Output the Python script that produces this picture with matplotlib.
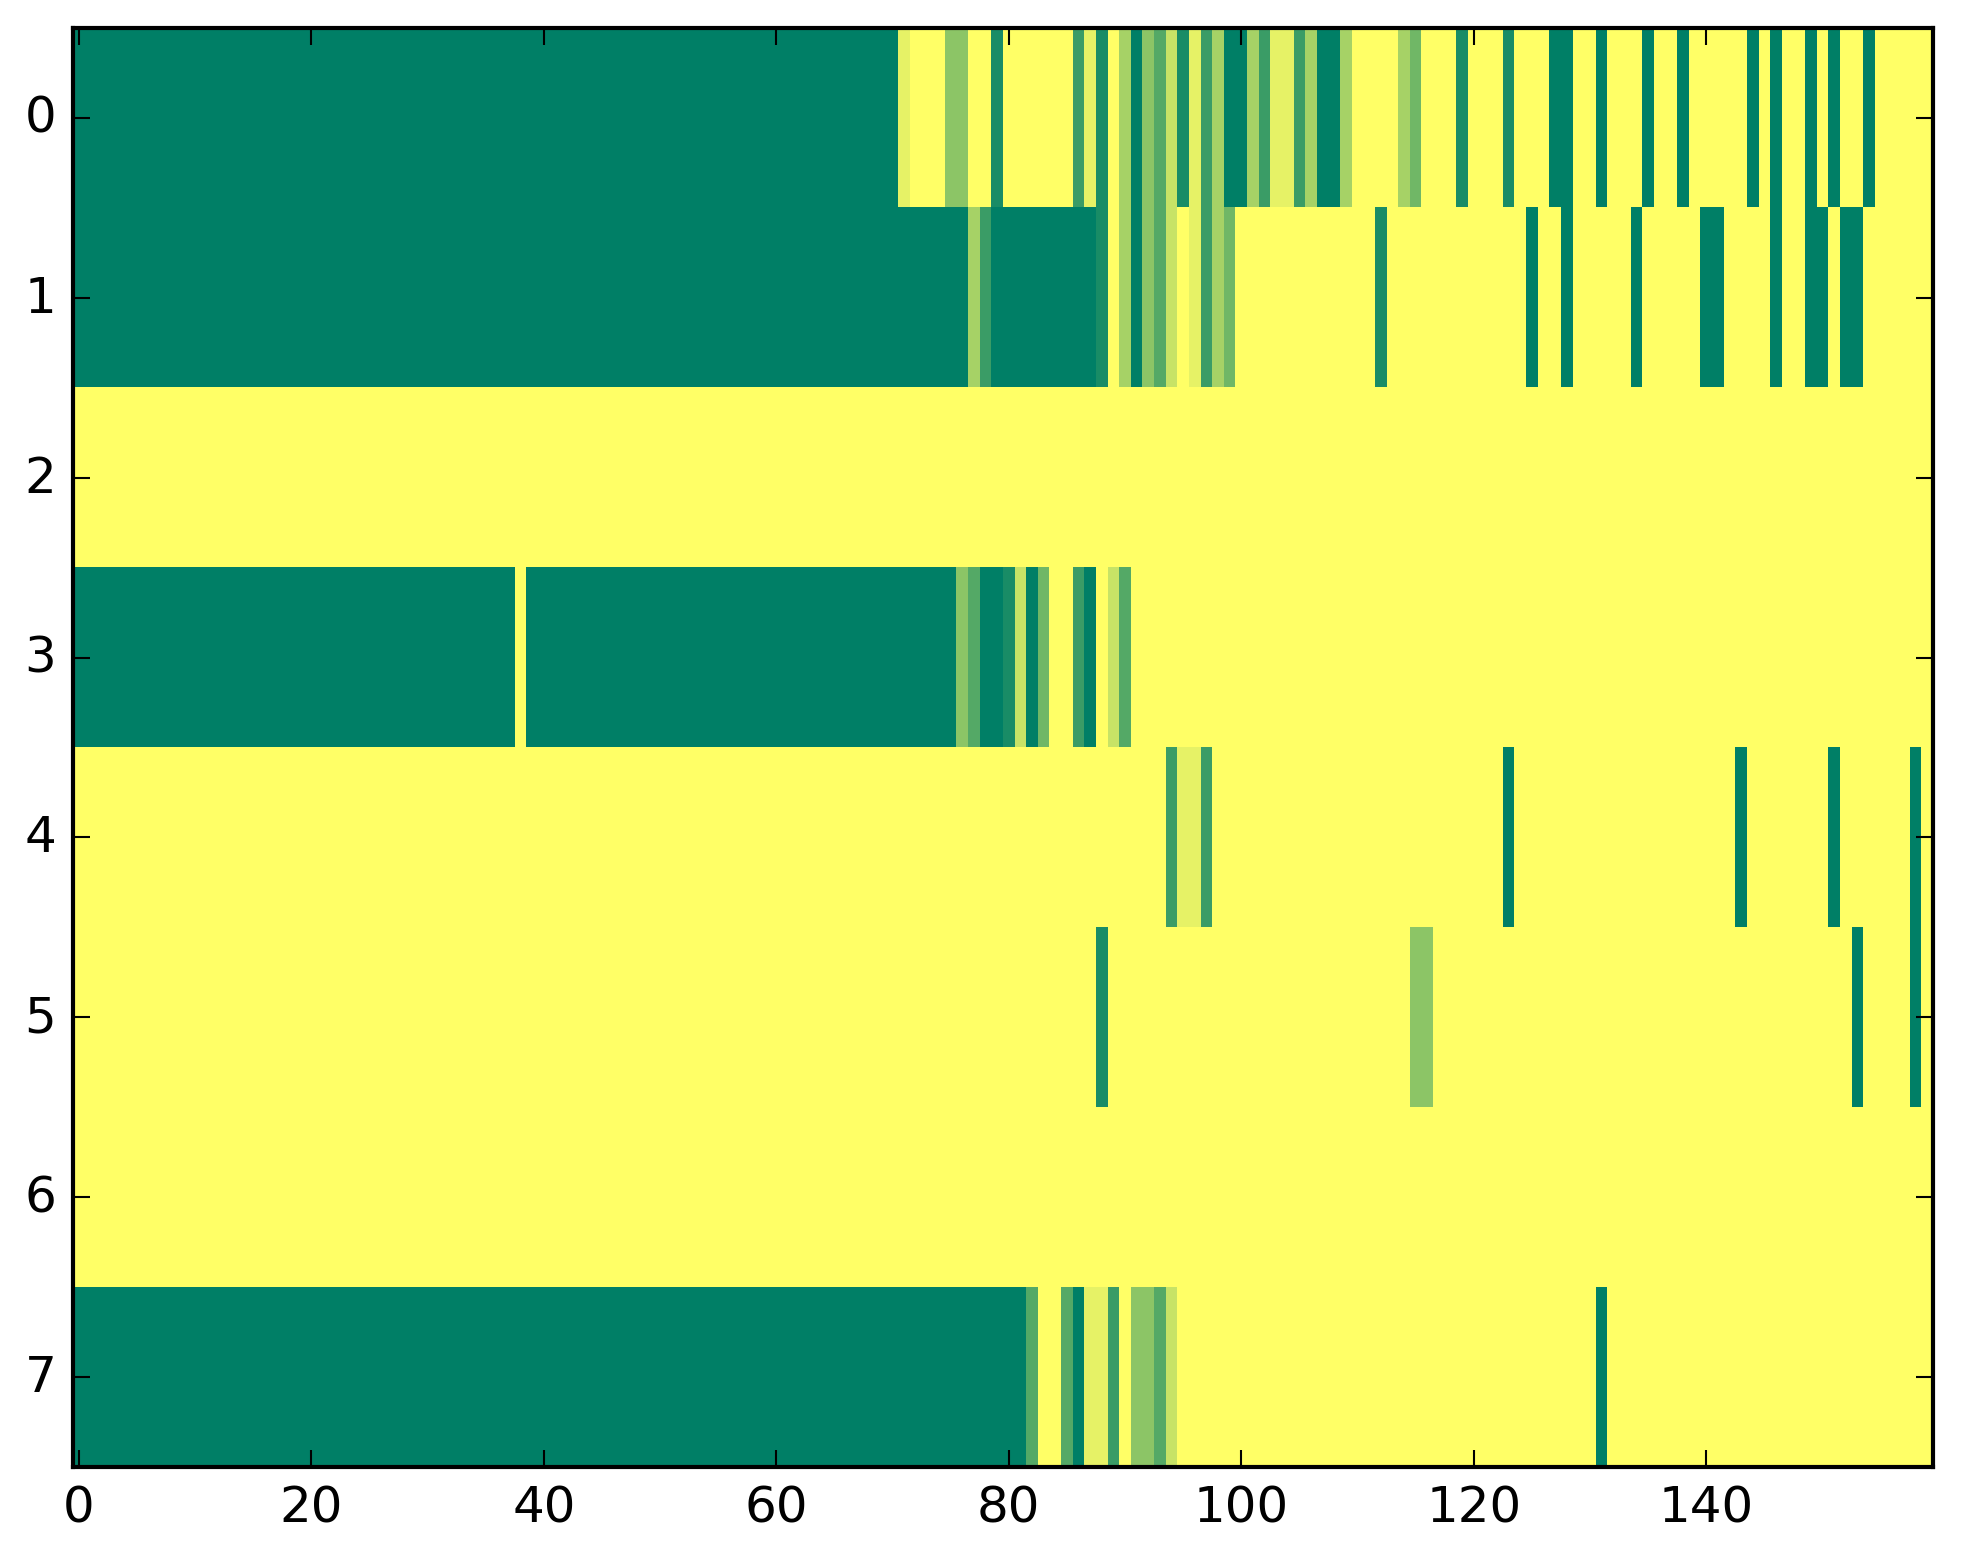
import numpy as np
import matplotlib
matplotlib.use("Agg")
import matplotlib.pyplot as plt

# one list per row, 160 cells each (20 per line), values in [0, 1]
row0 = [
    0, 0, 0, 0, 0, 0, 0, 0, 0, 0, 0, 0, 0, 0, 0, 0, 0, 0, 0, 0,
    0, 0, 0, 0, 0, 0, 0, 0, 0, 0, 0, 0, 0, 0, 0, 0, 0, 0, 0, 0,
    0, 0, 0, 0, 0, 0, 0, 0, 0, 0, 0, 0, 0, 0, 0, 0, 0, 0, 0, 0,
    0, 0, 0, 0, 0, 0, 0, 0, 0, 0, 0, .9, 1, 1, 1, .55, .55, 1, 1, .1,
    1, 1, 1, 1, 1, 1, .23, .9, .1, 1, .65, 0, .55, .33, .78, .1, .9, .23, .65, 0,
    0, .65, .23, .9, .9, .23, .65, 0, 0, .65, 1, 1, 1, 1, .65, .44, 1, 1, 1, .1,
    1, 1, 1, .1, 1, 1, 1, 0, 0, 1, 1, 0, 1, 1, 1, 0, 1, 1, 0, 1,
    1, 1, 1, 1, 0, 1, 0, 1, 1, 0, 1, 0, 1, 1, 0, 1, 1, 1, 1, 1,
]
row1 = [
    0, 0, 0, 0, 0, 0, 0, 0, 0, 0, 0, 0, 0, 0, 0, 0, 0, 0, 0, 0,
    0, 0, 0, 0, 0, 0, 0, 0, 0, 0, 0, 0, 0, 0, 0, 0, 0, 0, 0, 0,
    0, 0, 0, 0, 0, 0, 0, 0, 0, 0, 0, 0, 0, 0, 0, 0, 0, 0, 0, 0,
    0, 0, 0, 0, 0, 0, 0, 0, 0, 0, 0, 0, 0, 0, 0, 0, 0, .65, .23, 0,
    0, 0, 0, 0, 0, 0, 0, 0, .1, 1, .65, 0, .55, .33, .78, 1, .9, .23, .65, .44,
    1, 1, 1, 1, 1, 1, 1, 1, 1, 1, 1, 1, .1, 1, 1, 1, 1, 1, 1, 1,
    1, 1, 1, 1, 1, 0, 1, 1, 0, 1, 1, 1, 1, 1, 0, 1, 1, 1, 1, 1,
    0, 0, 1, 1, 1, 1, 0, 1, 1, 0, 0, 1, 0, 0, 1, 1, 1, 1, 1, 1,
]
row2 = [
    1, 1, 1, 1, 1, 1, 1, 1, 1, 1, 1, 1, 1, 1, 1, 1, 1, 1, 1, 1,
    1, 1, 1, 1, 1, 1, 1, 1, 1, 1, 1, 1, 1, 1, 1, 1, 1, 1, 1, 1,
    1, 1, 1, 1, 1, 1, 1, 1, 1, 1, 1, 1, 1, 1, 1, 1, 1, 1, 1, 1,
    1, 1, 1, 1, 1, 1, 1, 1, 1, 1, 1, 1, 1, 1, 1, 1, 1, 1, 1, 1,
    1, 1, 1, 1, 1, 1, 1, 1, 1, 1, 1, 1, 1, 1, 1, 1, 1, 1, 1, 1,
    1, 1, 1, 1, 1, 1, 1, 1, 1, 1, 1, 1, 1, 1, 1, 1, 1, 1, 1, 1,
    1, 1, 1, 1, 1, 1, 1, 1, 1, 1, 1, 1, 1, 1, 1, 1, 1, 1, 1, 1,
    1, 1, 1, 1, 1, 1, 1, 1, 1, 1, 1, 1, 1, 1, 1, 1, 1, 1, 1, 1,
]
row3 = [
    0, 0, 0, 0, 0, 0, 0, 0, 0, 0, 0, 0, 0, 0, 0, 0, 0, 0, 0, 0,
    0, 0, 0, 0, 0, 0, 0, 0, 0, 0, 0, 0, 0, 0, 0, 0, 0, 0, 1, 0,
    0, 0, 0, 0, 0, 0, 0, 0, 0, 0, 0, 0, 0, 0, 0, 0, 0, 0, 0, 0,
    0, 0, 0, 0, 0, 0, 0, 0, 0, 0, 0, 0, 0, 0, 0, 0, .55, .33, 0, 0,
    .1, .78, 0, .44, 1, 1, .23, 0, 1, .78, .33, 1, 1, 1, 1, 1, 1, 1, 1, 1,
    1, 1, 1, 1, 1, 1, 1, 1, 1, 1, 1, 1, 1, 1, 1, 1, 1, 1, 1, 1,
    1, 1, 1, 1, 1, 1, 1, 1, 1, 1, 1, 1, 1, 1, 1, 1, 1, 1, 1, 1,
    1, 1, 1, 1, 1, 1, 1, 1, 1, 1, 1, 1, 1, 1, 1, 1, 1, 1, 1, 1,
]
row4 = [
    1, 1, 1, 1, 1, 1, 1, 1, 1, 1, 1, 1, 1, 1, 1, 1, 1, 1, 1, 1,
    1, 1, 1, 1, 1, 1, 1, 1, 1, 1, 1, 1, 1, 1, 1, 1, 1, 1, 1, 1,
    1, 1, 1, 1, 1, 1, 1, 1, 1, 1, 1, 1, 1, 1, 1, 1, 1, 1, 1, 1,
    1, 1, 1, 1, 1, 1, 1, 1, 1, 1, 1, 1, 1, 1, 1, 1, 1, 1, 1, 1,
    1, 1, 1, 1, 1, 1, 1, 1, 1, 1, 1, 1, 1, 1, .23, .9, .9, .23, 1, 1,
    1, 1, 1, 1, 1, 1, 1, 1, 1, 1, 1, 1, 1, 1, 1, 1, 1, 1, 1, 1,
    1, 1, 1, 0, 1, 1, 1, 1, 1, 1, 1, 1, 1, 1, 1, 1, 1, 1, 1, 1,
    1, 1, 1, 0, 1, 1, 1, 1, 1, 1, 1, 0, 1, 1, 1, 1, 1, 1, 0, 1,
]
row5 = [
    1, 1, 1, 1, 1, 1, 1, 1, 1, 1, 1, 1, 1, 1, 1, 1, 1, 1, 1, 1,
    1, 1, 1, 1, 1, 1, 1, 1, 1, 1, 1, 1, 1, 1, 1, 1, 1, 1, 1, 1,
    1, 1, 1, 1, 1, 1, 1, 1, 1, 1, 1, 1, 1, 1, 1, 1, 1, 1, 1, 1,
    1, 1, 1, 1, 1, 1, 1, 1, 1, 1, 1, 1, 1, 1, 1, 1, 1, 1, 1, 1,
    1, 1, 1, 1, 1, 1, 1, 1, .1, 1, 1, 1, 1, 1, 1, 1, 1, 1, 1, 1,
    1, 1, 1, 1, 1, 1, 1, 1, 1, 1, 1, 1, 1, 1, 1, .55, .55, 1, 1, 1,
    1, 1, 1, 1, 1, 1, 1, 1, 1, 1, 1, 1, 1, 1, 1, 1, 1, 1, 1, 1,
    1, 1, 1, 1, 1, 1, 1, 1, 1, 1, 1, 1, 1, 0, 1, 1, 1, 1, 0, 1,
]
row6 = [
    1, 1, 1, 1, 1, 1, 1, 1, 1, 1, 1, 1, 1, 1, 1, 1, 1, 1, 1, 1,
    1, 1, 1, 1, 1, 1, 1, 1, 1, 1, 1, 1, 1, 1, 1, 1, 1, 1, 1, 1,
    1, 1, 1, 1, 1, 1, 1, 1, 1, 1, 1, 1, 1, 1, 1, 1, 1, 1, 1, 1,
    1, 1, 1, 1, 1, 1, 1, 1, 1, 1, 1, 1, 1, 1, 1, 1, 1, 1, 1, 1,
    1, 1, 1, 1, 1, 1, 1, 1, 1, 1, 1, 1, 1, 1, 1, 1, 1, 1, 1, 1,
    1, 1, 1, 1, 1, 1, 1, 1, 1, 1, 1, 1, 1, 1, 1, 1, 1, 1, 1, 1,
    1, 1, 1, 1, 1, 1, 1, 1, 1, 1, 1, 1, 1, 1, 1, 1, 1, 1, 1, 1,
    1, 1, 1, 1, 1, 1, 1, 1, 1, 1, 1, 1, 1, 1, 1, 1, 1, 1, 1, 1,
]
row7 = [
    0, 0, 0, 0, 0, 0, 0, 0, 0, 0, 0, 0, 0, 0, 0, 0, 0, 0, 0, 0,
    0, 0, 0, 0, 0, 0, 0, 0, 0, 0, 0, 0, 0, 0, 0, 0, 0, 0, 0, 0,
    0, 0, 0, 0, 0, 0, 0, 0, 0, 0, 0, 0, 0, 0, 0, 0, 0, 0, 0, 0,
    0, 0, 0, 0, 0, 0, 0, 0, 0, 0, 0, 0, 0, 0, 0, 0, 0, 0, 0, 0,
    0, 0, .33, 1, 1, .33, 0, .9, .9, .23, 1, .55, .55, .33, .78, 1, 1, 1, 1, 1,
    1, 1, 1, 1, 1, 1, 1, 1, 1, 1, 1, 1, 1, 1, 1, 1, 1, 1, 1, 1,
    1, 1, 1, 1, 1, 1, 1, 1, 1, 1, 1, 0, 1, 1, 1, 1, 1, 1, 1, 1,
    1, 1, 1, 1, 1, 1, 1, 1, 1, 1, 1, 1, 1, 1, 1, 1, 1, 1, 1, 1,
]

x_ticks = [0, 20, 40, 60, 80, 100, 120, 140]
y_ticks = [0, 1, 2, 3, 4, 5, 6, 7]

plt.style.use("classic")

grid = np.array([row0, row1, row2, row3, row4, row5, row6, row7], dtype=float)

fig = plt.figure(figsize=(1963 / 300, 1564 / 300), dpi=300, facecolor="white")
ax = fig.add_axes([0.0372, 0.0614, 0.9475, 0.9201])
ax.imshow(grid, cmap="summer", vmin=0, vmax=1, aspect="auto", interpolation="nearest")
ax.set_xticks(x_ticks)
ax.set_yticks(y_ticks)
ax.tick_params(labelsize=12)

fig.savefig("out.png", dpi=300, facecolor="white")
